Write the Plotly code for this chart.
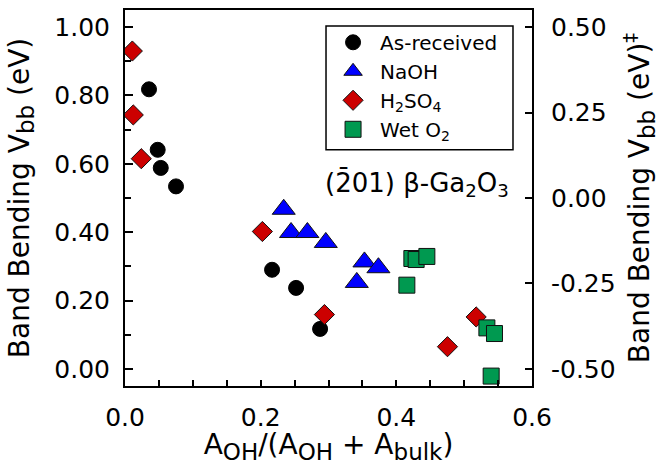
import plotly.graph_objects as go

# ---- data ----
asrec_x = [0.0354, 0.0482, 0.0527, 0.0752, 0.2168, 0.2522, 0.2876]
asrec_y = [0.818, 0.641, 0.588, 0.534, 0.290, 0.237, 0.117]

naoh_x = [0.234, 0.2448, 0.2689, 0.296, 0.353, 0.3736, 0.3417]
naoh_y = [0.467, 0.399, 0.399, 0.370, 0.313, 0.296, 0.253]

h2so4_x = [0.0108, 0.0122, 0.024, 0.2025, 0.294, 0.5177, 0.4754]
h2so4_y = [0.930, 0.743, 0.615, 0.402, 0.159, 0.152, 0.065]

weto2_x = [0.4229, 0.4292, 0.445, 0.4155, 0.5335, 0.5447, 0.5398]
weto2_y = [0.323, 0.320, 0.329, 0.245, 0.120, 0.1035, -0.021]

x_tickvals = [0.0, 0.2, 0.4, 0.6]
x_ticktext = ["0.0", "0.2", "0.4", "0.6"]
y_tickvals = [0.0, 0.2, 0.4, 0.6, 0.8, 1.0]
y_ticktext = ["0.00", "0.20", "0.40", "0.60", "0.80", "1.00"]
y2_tickvals = [-0.5, -0.25, 0.0, 0.25, 0.5]
y2_ticktext = ["-0.50", "-0.25", "0.00", "0.25", "0.50"]

FONT = "DejaVu Sans"
TICK = 25
TITLE = 28


def sub(t, size=23):
    return "<sub><span style='font-size:%dpx'>%s</span></sub>" % (size, t)


fig = go.Figure()
fig.add_trace(go.Scatter(x=asrec_x, y=asrec_y, mode="markers", name="As-received",
                         marker=dict(symbol="circle", size=15, color="black",
                                     line=dict(color="black", width=1))))
fig.add_trace(go.Scatter(x=naoh_x, y=naoh_y, mode="markers", name="NaOH",
                         marker=dict(symbol="triangle-up", size=20, color="#0000FF",
                                     line=dict(color="#111111", width=1))))
fig.add_trace(go.Scatter(x=h2so4_x, y=h2so4_y, mode="markers", name="H<sub>2</sub>SO<sub>4</sub>",
                         marker=dict(symbol="diamond", size=15.5, color="#CC0000",
                                     line=dict(color="#111111", width=1))))
fig.add_trace(go.Scatter(x=weto2_x, y=weto2_y, mode="markers", name="Wet O<sub>2</sub>",
                         marker=dict(symbol="square", size=16, color="#009950",
                                     line=dict(color="#111111", width=1))))
# invisible trace to activate right axis
fig.add_trace(go.Scatter(x=[0.3], y=[0.0], yaxis="y2", mode="markers",
                         marker=dict(opacity=0), showlegend=False, hoverinfo="skip"))

fig.add_annotation(x=0.43, y=0.54, xref="x", yref="y",
                   text="(2\u030401) \u03b2-Ga<sub>2</sub>O<sub>3</sub>",
                   showarrow=False, font=dict(family=FONT, size=26, color="black"))

# legend frame
fig.add_shape(type="rect", xref="paper", yref="paper",
              x0=0.4939, x1=0.9533, y0=0.628, y1=0.9575,
              line=dict(color="black", width=1.5), fillcolor="white", layer="below")

ytitle = "Band Bending V" + sub("bb") + " (eV)"
y2title = "Band Bending V" + sub("bb") + " (eV)<sup>\u2021</sup>"
xtitle = "A" + sub("OH") + "/(A" + sub("OH") + " + A" + sub("bulk") + ")"

fig.update_layout(
    width=660, height=465,
    margin=dict(l=125, r=128, t=10, b=78.5, autoexpand=False),
    paper_bgcolor="white", plot_bgcolor="white",
    font=dict(family=FONT, size=TICK, color="black"),
    showlegend=True,
    legend=dict(x=0.494, y=0.966, xanchor="left", yanchor="top",
                bgcolor="rgba(0,0,0,0)", borderwidth=0,
                font=dict(family=FONT, size=20, color="black"),
                itemwidth=44, itemsizing="trace"),
    xaxis=dict(range=[0, 0.6], tickvals=x_tickvals, ticktext=x_ticktext,
               showline=True, linecolor="black", linewidth=2, mirror=True,
               ticks="inside", ticklen=6, tickwidth=1.5, tickcolor="black",
               minor=dict(dtick=0.05, ticks="inside", ticklen=6, tickwidth=1.5, tickcolor="black"),
               showgrid=False, zeroline=False, ticklabelstandoff=8,
               title=dict(text=xtitle, standoff=9,
                          font=dict(family=FONT, size=TITLE))),
    yaxis=dict(range=[-0.05, 1.05], tickvals=y_tickvals, ticktext=y_ticktext,
               showline=True, linecolor="black", linewidth=2,
               ticks="inside", ticklen=8, tickwidth=1.5, tickcolor="black",
               minor=dict(dtick=0.1, ticks="inside", ticklen=6, tickwidth=1.5, tickcolor="black"),
               showgrid=False, zeroline=False, ticklabelstandoff=8,
               title=dict(text=ytitle, standoff=17,
                          font=dict(family=FONT, size=TITLE))),
    yaxis2=dict(range=[-0.55, 0.55], overlaying="y", side="right",
                tickvals=y2_tickvals, ticktext=y2_ticktext,
                showline=True, linecolor="black", linewidth=2,
                ticks="inside", ticklen=7, tickwidth=1.5, tickcolor="black",
                showgrid=False, zeroline=False, ticklabelstandoff=12,
                title=dict(text=y2title, standoff=17,
                           font=dict(family=FONT, size=TITLE))),
)

fig.write_html("out.html")
